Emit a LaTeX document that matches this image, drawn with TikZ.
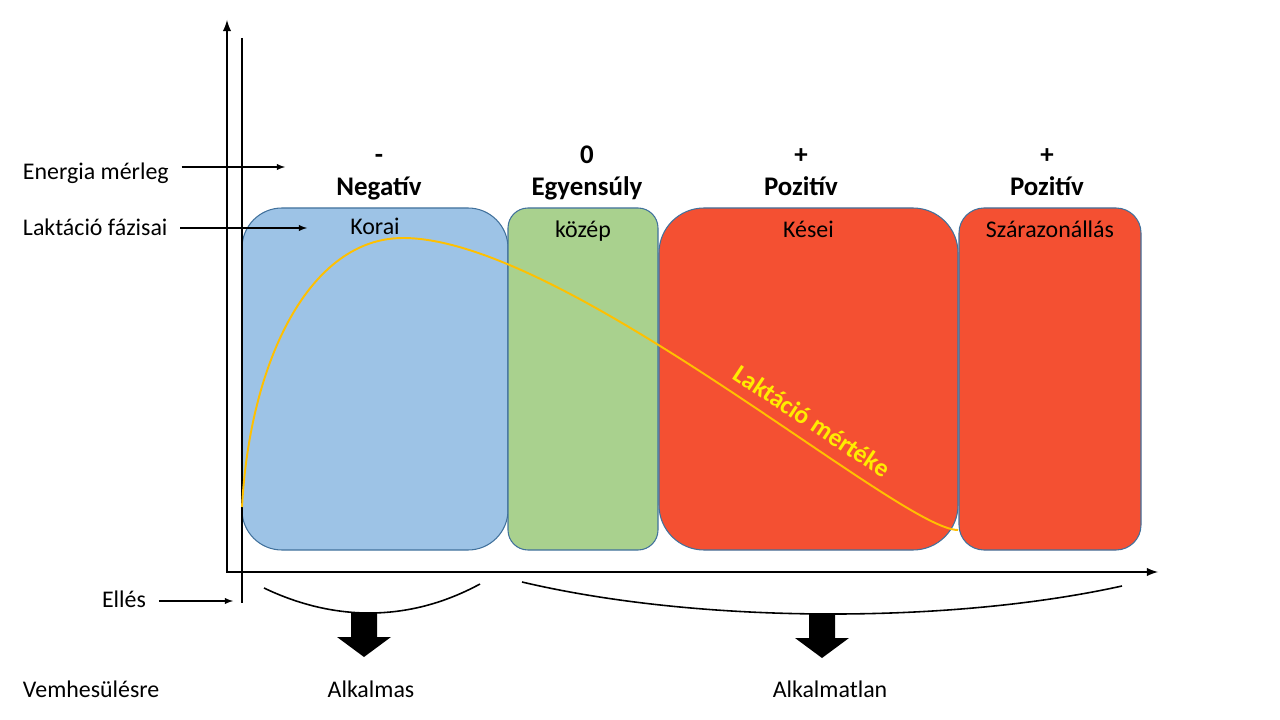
\documentclass[tikz,border=0pt]{standalone}
\usepackage{fontspec}
\setmainfont{Carlito}
\usepackage{tikz}
\usetikzlibrary{arrows}
\definecolor{korai}{RGB}{157,195,230}
\definecolor{kozep}{RGB}{169,209,142}
\definecolor{kesei}{RGB}{244,80,50}
\definecolor{keret}{RGB}{65,113,156}
\definecolor{gorbe}{RGB}{255,192,0}
\definecolor{felirat}{RGB}{255,236,0}
\newcommand{\vastag}{1.2pt}
\newcommand{\vekony}{0.6pt}
% block arrow: centre x, top y
\newcommand{\blokknyil}[2]{%
  \fill (#1-13,#2) -- (#1+13,#2) -- (#1+13,#2+24) -- (#1+27,#2+24)
     -- (#1,#2+44) -- (#1-27,#2+24) -- (#1-13,#2+24) -- cycle;}

\begin{document}
\begin{tikzpicture}[x=0.2mm, y=-0.2mm,
    every node/.style={inner sep=0pt, outer sep=0pt},
    szoveg/.style={font=\fontsize{13.6}{16}\selectfont},
    fej/.style={font=\fontsize{15.3}{18}\selectfont\bfseries},
    fazis/.style={draw=keret, line width=0.6pt, minimum height=68.4mm},
    tengely/.style={line width=\vastag, latex-latex},
    cimkenyil/.style={line width=\vekony, -latex, shorten <=2.6mm},
    ivek/.style={line width=0.9pt}]
\useasboundingbox (0,0) rectangle (1280,720);

% fazisok
\foreach \nev/\kx/\sz/\szin/\r/\ty/\cim in {korai/375/53.2/korai/8/235/Korai,
        kozep/583/30/kozep/4/238/közép,
        kesei/808.5/59.8/kesei/9/238/Kései,
        szaraz/1050/36.4/kesei/5/238/Szárazonállás} {
    \node[fazis, fill=\szin, minimum width=\sz mm, rounded corners=\r mm] (\nev) at (\kx,379) {};
    \node[szoveg, anchor=base] (\nev T) at (\kx,\ty) {\cim};
}

% energia merleg
\foreach \kx/\jel/\szo/\nev in {379/-/Negatív/neg, 587/0/Egyensúly/egy,
        801/+/Pozitív/poz, 1047/+/Pozitív/pozb} {
    \node[fej, anchor=base] (\nev J) at (\kx,164) {\jel};
    \node[fej, anchor=base] (\nev S) at (\kx,196) {\szo};
}

% tengelyek
\coordinate (O) at (227,572);
\coordinate (ycsucs) at (227,20);
\coordinate (xcsucs) at (1158,572);
\draw[tengely] (ycsucs) -- (O) -- (xcsucs);
\coordinate (ellesF) at (242,38);
\coordinate (ellesA) at (242,603);
\draw[line width=\vekony] (ellesF) -- (ellesA);

% laktacio gorbe
\coordinate (csucs) at (403,238);
\draw[gorbe, line width=1.1pt] (242,507) .. controls (250,360) and (310,238) .. (csucs)
    .. controls (565,238) and (900,530) .. (958,530);
\node[font=\fontsize{14.5}{17}\selectfont\bfseries, text=felirat, rotate=-33.5] (mertek) at (812,421) {Laktáció mértéke};

% bal oldali cimkek
\node[szoveg, anchor=base west] (energia) at (23,180) {Energia mérleg};
\node[szoveg, anchor=base west] (fazisai) at (23,236) {Laktáció fázisai};
\node[szoveg, anchor=base west] (elles) at (102,607) {Ellés};
\node[szoveg, anchor=base west] (vemh) at (23,697) {Vemhesülésre};
\coordinate (energiaV) at (285,167);
\coordinate (fazisaiV) at (307,228);
\coordinate (ellesV) at (233,601);
\draw[cimkenyil] (energia.east |- energiaV) -- (energiaV);
\draw[cimkenyil] (fazisai.east |- fazisaiV) -- (fazisaiV);
\draw[cimkenyil] (elles.east |- ellesV) -- (ellesV);

% vemhesulesre
\draw[ivek] (264,588) .. controls (335,622) and (410,622) .. (480,584);
\draw[ivek] (522,582) .. controls (700,624) and (950,624) .. (1122,586);
\blokknyil{364}{613}
\blokknyil{822}{614}
\node[szoveg, anchor=base] (alkalmas) at (371,697) {Alkalmas};
\node[szoveg, anchor=base] (alkalmatlan) at (830,697) {Alkalmatlan};
\end{tikzpicture}
\end{document}
